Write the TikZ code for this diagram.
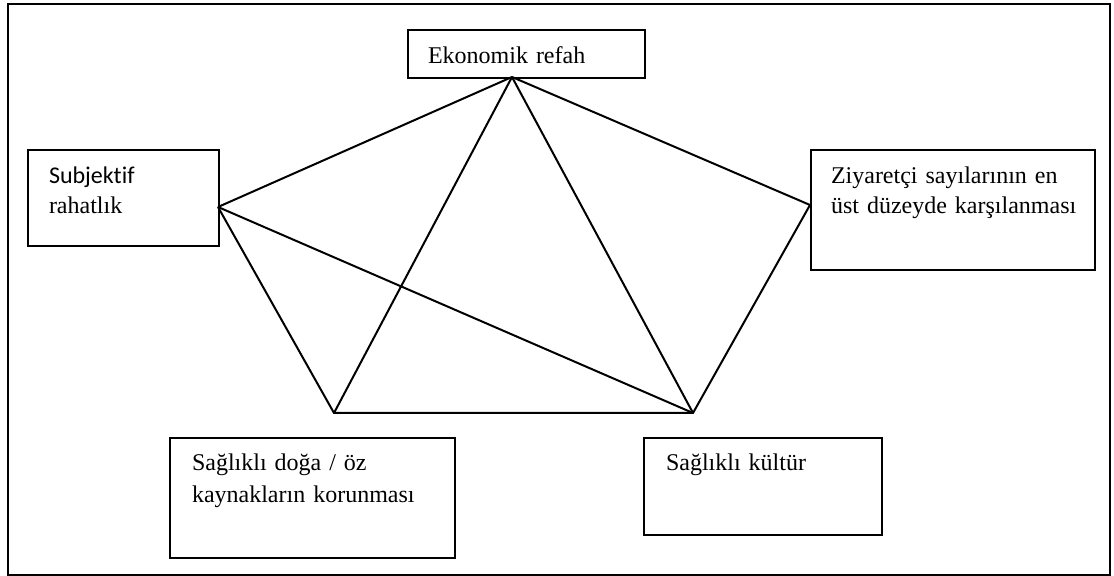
\documentclass[tikz,border=0pt]{standalone}
\usepackage{fontspec}
\setmainfont{Liberation Serif}
\newfontfamily\calibrifont[Ligatures=NoCommon]{Carlito}
\usepackage{tikz}

\begin{document}
\begin{tikzpicture}
[x = 0.5pt, y = -0.5pt,
  box/.style = {draw, line width = 1pt, anchor = north west, align = left,
    inner ysep = 0pt, inner xsep = 10pt, font = \fontsize{12}{15}\selectfont},
  link/.style = {line width = 1pt}]
  \useasboundingbox (0,0) rectangle (1114,576);
  \draw[line width = 1pt] (8,4) rectangle (1110,575); % outer frame

  \node[box, text width = 98.5pt, text height = 17pt, text depth = 7pt]
    (refah) at (407,29) {Ekonomik refah};
  \node[box, inner xsep = 10.5pt, text width = 74.5pt, text height = 17pt, text depth = 31pt]
    (rahat) at (27,149) {{\calibrifont Subjektif}\\rahatlık};
  \node[box, text width = 122pt, text height = 17pt, text depth = 43pt]
    (ziyaret) at (810,149) {\mbox{Ziyaretçi sayılarının en}\\\mbox{üst düzeyde karşılanması}};
  \node[box, inner xsep = 11pt, text width = 120.5pt, text height = 16.5pt, text depth = 43.5pt,
    font = \fontsize{12}{16}\selectfont]
    (doga) at (169,437) {Sağlıklı doğa / öz\\kaynakların korunması};
  \node[box, inner xsep = 11pt, text width = 97pt, text height = 16.5pt, text depth = 32pt]
    (kultur) at (643,437) {Sağlıklı kültür};

  \coordinate (apex) at (512,77);
  \coordinate (rahatR) at (218,207);
  \coordinate (ziyaretL) at (810,205);
  \coordinate (dogaT) at (334,413);
  \coordinate (kulturT) at (693,413);

  \draw[link] (apex) -- (rahatR);
  \draw[link] (apex) -- (ziyaretL);
  \draw[link] (apex) -- (dogaT);
  \draw[link] (apex) -- (kulturT);
  \draw[link] (rahatR) -- (dogaT) -- (kulturT) -- (ziyaretL);
  \draw[link] (rahatR) -- (kulturT);
\end{tikzpicture}
\end{document}
